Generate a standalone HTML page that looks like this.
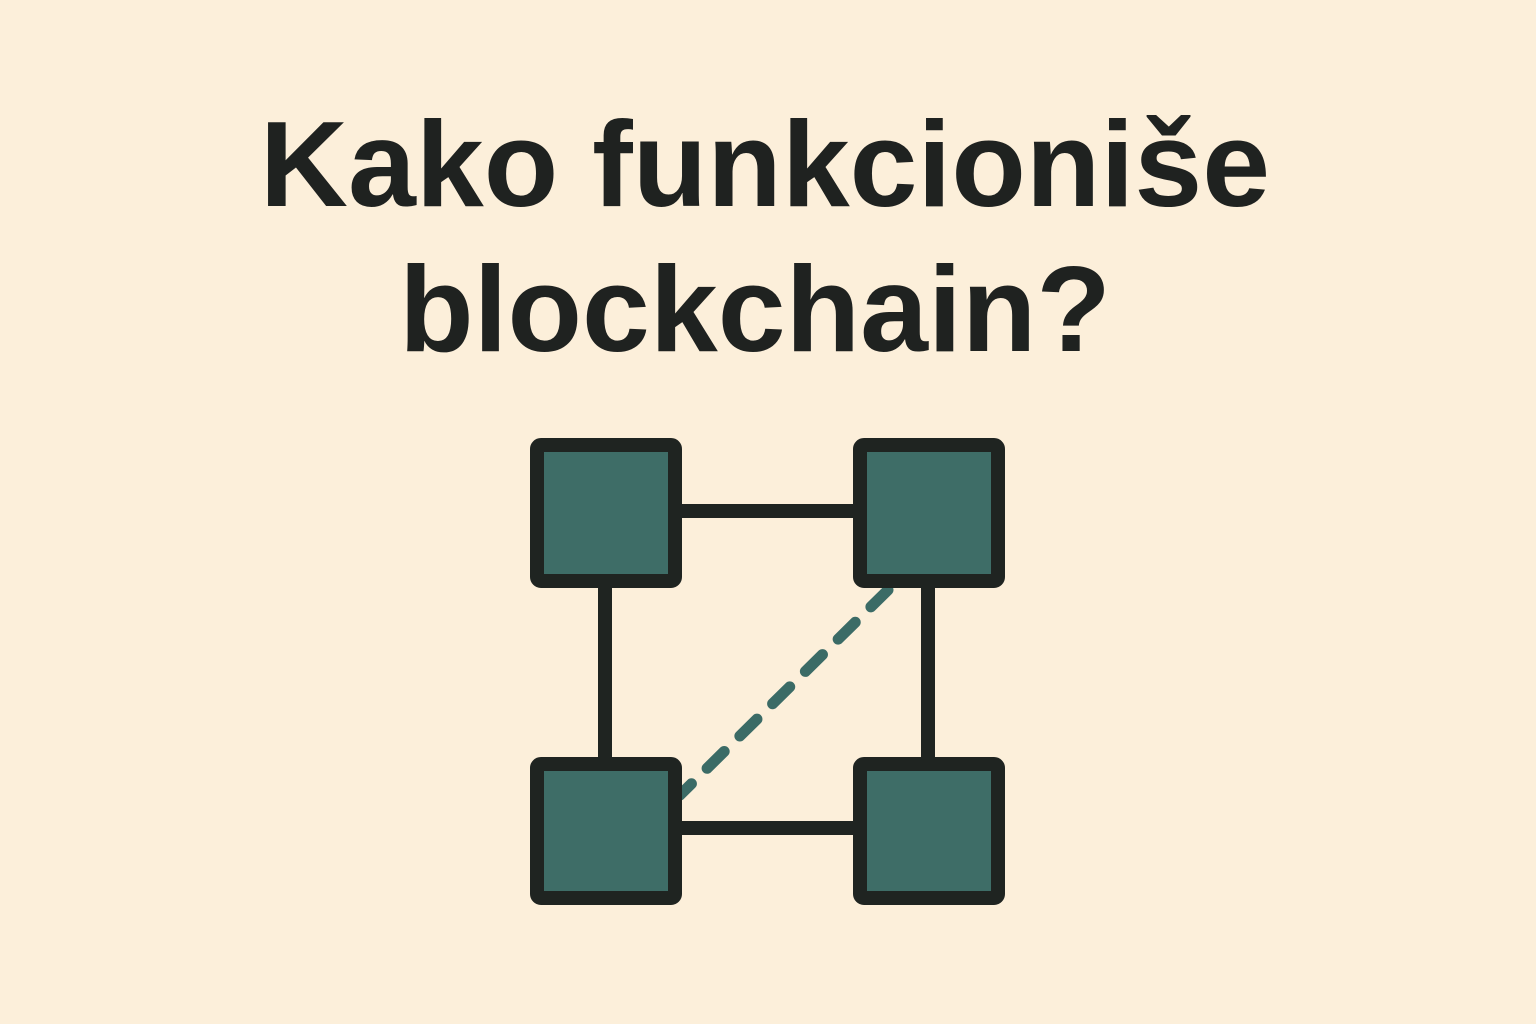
<!DOCTYPE html>
<html><head><meta charset="utf-8"><style>
html,body{margin:0;padding:0;}
body{width:1536px;height:1024px;background:#fcefda;position:relative;overflow:hidden;}
.t{position:absolute;left:0;width:1536px;text-align:center;font-family:"Liberation Sans",sans-serif;font-weight:bold;font-size:122px;color:#1f2220;line-height:1;letter-spacing:0px;}
svg{position:absolute;left:0;top:0;}
</style></head><body>
<div class="t" style="top:103px;left:-3px">Kako funkcioniše</div>
<div class="t" style="top:248px;left:-13px">blockchain?</div>
<svg width="1536" height="1024">
<g stroke="#1f2421" stroke-width="14" fill="none">
<line x1="680" y1="511" x2="856" y2="511"/>
<line x1="680" y1="828" x2="856" y2="828"/>
<line x1="605" y1="586" x2="605" y2="760"/>
<line x1="928" y1="586" x2="928" y2="760"/>
</g>
<line x1="888" y1="590" x2="680" y2="795" stroke="#3b6b66" stroke-width="11" stroke-linecap="round" stroke-dasharray="24 22"/>
<g fill="#3e6d67" stroke="#1f2421" stroke-width="14" stroke-linejoin="round">
<rect x="537" y="445" width="138" height="136" rx="4"/>
<rect x="860" y="445" width="138" height="136" rx="4"/>
<rect x="537" y="764" width="138" height="134" rx="4"/>
<rect x="860" y="764" width="138" height="134" rx="4"/>
</g>
</svg>
</body></html>
